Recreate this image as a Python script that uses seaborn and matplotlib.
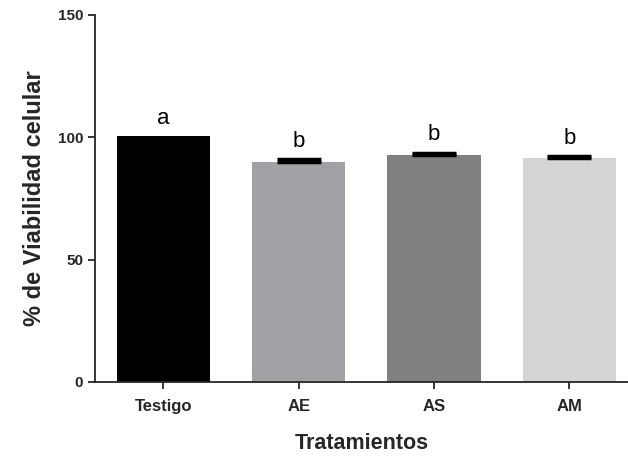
import matplotlib
matplotlib.use("Agg")
import matplotlib.pyplot as plt
import seaborn as sns
import pandas as pd

# datos
tratamientos = ["Testigo", "AE", "AS", "AM"]
viabilidad = [100.5, 90.0, 92.7, 91.5]
error_sup = [0.0, 1.0, 1.0, 0.8]
letras = ["a", "b", "b", "b"]
colores = ["#000000", "#a2a2a6", "#808080", "#d4d4d4"]

sns.set_style("ticks")
plt.rcParams["font.family"] = ["Liberation Sans", "DejaVu Sans"]

df = pd.DataFrame({"Tratamientos": tratamientos, "Viabilidad": viabilidad})

fig = plt.figure(figsize=(6.28, 4.68), dpi=100)
ax = fig.add_axes([0.151, 0.184, 0.849, 0.784])

sns.barplot(data=df, x="Tratamientos", y="Viabilidad", hue="Tratamientos",
            palette=colores, width=0.69, saturation=1, legend=False,
            linewidth=0, ax=ax)

# solo barras de error hacia arriba (donde hay error)
idx = [i for i, e in enumerate(error_sup) if e > 0]
ax.errorbar(idx, [viabilidad[i] for i in idx],
            yerr=[[0] * len(idx), [error_sup[i] for i in idx]], fmt="none",
            ecolor="black", elinewidth=1.5, capsize=16, capthick=2.5)

for x, v, e, l in zip(range(len(tratamientos)), viabilidad, error_sup, letras):
    ax.text(x, v + e + 5, l, ha="center", va="baseline", fontsize=16, color="black")

ax.set_ylim(0, 150)
ax.set_xlim(-0.507, 3.433)
ax.set_yticks([0, 50, 100, 150])
ax.set_ylabel("% de Viabilidad celular", fontsize=17, fontweight="bold", labelpad=8)
ax.set_xlabel("Tratamientos", fontsize=15.5, fontweight="bold", labelpad=14)
ax.tick_params(axis="both", direction="out", length=5, width=1.3)
ax.tick_params(axis="y", labelsize=11)
ax.tick_params(axis="x", labelsize=12, pad=7)
for lab in ax.get_xticklabels() + ax.get_yticklabels():
    lab.set_fontweight("bold")
ax.spines["top"].set_visible(False)
ax.spines["right"].set_visible(False)
ax.spines["left"].set_linewidth(1.3)
ax.spines["bottom"].set_linewidth(1.3)

fig.savefig("out.png", dpi=100)
